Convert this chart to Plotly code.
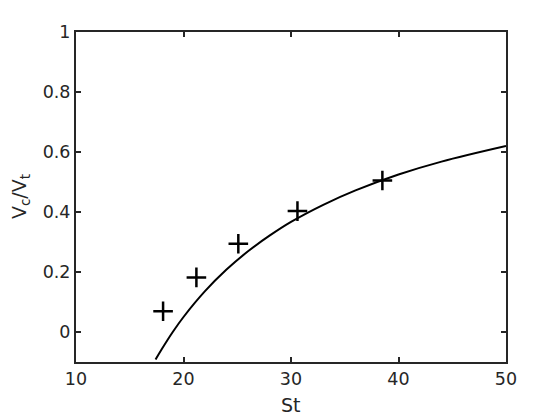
import plotly.graph_objects as go

# model curve
st_curve = [17.4, 18, 19, 20, 22, 24, 26, 28, 30, 33, 36, 40, 44, 50]
vc_curve = [-0.092, -0.056, 0.0, 0.05, 0.136, 0.208, 0.269, 0.321, 0.367,
            0.424, 0.472, 0.525, 0.568, 0.62]

# measured points
st_meas = [18.1, 21.2, 25.1, 30.6, 38.5]
vc_meas = [0.069, 0.182, 0.294, 0.403, 0.505]

axis_color = "#262626"

fig = go.Figure()
fig.add_trace(
    go.Scatter(
        x=st_curve,
        y=vc_curve,
        mode="lines",
        line=dict(color="black", width=2, shape="spline"),
        showlegend=False,
    )
)
fig.add_trace(
    go.Scatter(
        x=st_meas,
        y=vc_meas,
        mode="markers",
        marker=dict(symbol="cross-thin", size=14, line=dict(color="black", width=2.5)),
        showlegend=False,
    )
)

axis_common = dict(
    showline=True,
    linecolor=axis_color,
    linewidth=2,
    mirror="ticks",
    ticks="inside",
    ticklen=5,
    tickwidth=1.5,
    tickcolor=axis_color,
    showgrid=False,
    zeroline=False,
    automargin=False,
    tickfont=dict(size=17.5, color=axis_color),
)

fig.update_xaxes(range=[10, 50], tickvals=[10, 20, 30, 40, 50], **axis_common)
fig.update_yaxes(
    range=[-0.1, 1],
    tickvals=[0, 0.2, 0.4, 0.6, 0.8, 1],
    ticktext=["0", "0.2", "0.4", "0.6", "0.8", "1"],
    **axis_common,
)

# axis titles as annotations so they sit where the original puts them
fig.add_annotation(
    text="St", xref="paper", yref="paper", x=0.5, y=0,
    xanchor="center", yanchor="middle", yshift=-43, showarrow=False,
    font=dict(size=19, color=axis_color),
)
fig.add_annotation(
    text="V<sub>c</sub>/V<sub>t</sub>", xref="paper", yref="paper", x=0, y=0.5,
    xanchor="center", yanchor="middle", xshift=-56, textangle=-90, showarrow=False,
    font=dict(size=19, color=axis_color),
)

# page offsets the figure by ~7px, margins compensate
fig.update_layout(
    width=560,
    height=420,
    margin=dict(l=68, r=62, t=24, b=66),
    paper_bgcolor="white",
    plot_bgcolor="white",
    font=dict(family="DejaVu Sans, sans-serif", color=axis_color),
)

fig.write_html("out.html")
